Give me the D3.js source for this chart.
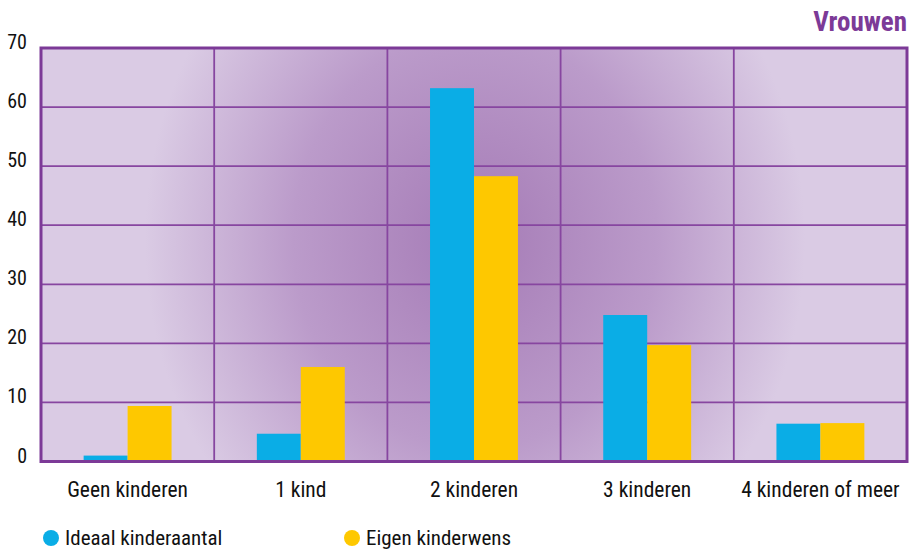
<!DOCTYPE html>
<html><head><meta charset="utf-8">
<script src="https://cdn.jsdelivr.net/npm/d3@7/dist/d3.min.js"></script>
<style>
body{margin:0;background:#fff;}
text{font-family:"Liberation Sans Narrow","Roboto Condensed","Arial Narrow",sans-serif;fill:#111;}
</style></head>
<body><svg id="c" width="911" height="550"></svg>
<script>
const categories = ["Geen kinderen","1 kind","2 kinderen","3 kinderen","4 kinderen of meer"];
const seriesNames = ["Ideaal kinderaantal","Eigen kinderwens"];
const ideaal = [1.0, 4.7, 63.2, 24.8, 6.4];
const eigen = [9.4, 16.0, 48.3, 19.7, 6.5];
const yTicks = [0,10,20,30,40,50,60,70];
const colors = ["#0aade6","#fec800"];
const title = "Vrouwen";

const svg = d3.select("#c");
const m = {l:41, r:907, t:48, b:461.5};
const x = d3.scaleBand().domain(categories).range([m.l, m.r]).paddingInner(0).paddingOuter(0);
const xi = d3.scaleBand().domain(seriesNames).range([0, x.bandwidth()]).paddingInner(0).paddingOuter(0.97);
const y = d3.scaleLinear().domain([0,70]).range([m.b, m.t]);

const defs = svg.append("defs");
const g = defs.append("radialGradient").attr("id","bg").attr("gradientUnits","userSpaceOnUse")
  .attr("cx",475).attr("cy",240).attr("r",330)
  .attr("gradientTransform","translate(475,240) scale(1,1.15) translate(-475,-240)");
g.append("stop").attr("offset","0%").attr("stop-color","#a57bb6");
g.append("stop").attr("offset","55%").attr("stop-color","#bb9bca");
g.append("stop").attr("offset","100%").attr("stop-color","#dacbe4");

svg.append("rect").attr("x",m.l).attr("y",m.t).attr("width",m.r-m.l).attr("height",m.b-m.t).attr("fill","url(#bg)");

// grid
svg.append("g").selectAll("line").data(yTicks.slice(1,-1)).join("line")
  .attr("x1",m.l).attr("x2",m.r).attr("y1",d=>y(d)).attr("y2",d=>y(d))
  .attr("stroke","#8746a0").attr("stroke-width",1.8);
svg.append("g").selectAll("line").data(categories.slice(1)).join("line")
  .attr("x1",d=>x(d)).attr("x2",d=>x(d)).attr("y1",m.t).attr("y2",m.b)
  .attr("stroke","#8746a0").attr("stroke-width",1.8);

// bars
const groups = svg.append("g").selectAll("g").data(categories).join("g")
  .attr("transform",d=>`translate(${x(d)},0)`);
groups.selectAll("rect").data((d,i)=>[ideaal[i],eigen[i]].map((v,j)=>({s:seriesNames[j],v,j}))).join("rect")
  .attr("x",d=>xi(d.s)).attr("width",xi.bandwidth())
  .attr("y",d=>y(d.v)).attr("height",d=>y(0)-y(d.v))
  .attr("fill",d=>colors[d.j]);

// border
svg.append("rect").attr("x",m.l).attr("y",m.t).attr("width",m.r-m.l).attr("height",m.b-m.t)
  .attr("fill","none").attr("stroke","#7c3a97").attr("stroke-width",3);

// y labels
svg.append("g").selectAll("text").data(yTicks).join("text")
  .attr("x",27).attr("y",d=>y(d)-6).attr("dy","0.35em").attr("text-anchor","end")
  .style("font-size","20px").text(d=>d);

// x labels
svg.append("g").selectAll("text").data(categories).join("text")
  .attr("x",d=>x(d)+x.bandwidth()/2).attr("y",497).attr("text-anchor","middle")
  .style("font-size","21.5px").text(d=>d);

// title
svg.append("text").attr("x",907).attr("y",31).attr("text-anchor","end")
  .style("font-size","27px").style("font-weight","bold").style("fill","#7c3a97").text(title);

// legend
const lx = [51, 352];
const lg = svg.append("g").selectAll("g").data(seriesNames).join("g")
  .attr("transform",(d,i)=>`translate(${lx[i]},538)`);
lg.append("circle").attr("r",8).attr("fill",(d,i)=>colors[i]);
lg.append("text").attr("x",14).attr("y",6.5).style("font-size","21px").text(d=>d);
</script></body></html>
